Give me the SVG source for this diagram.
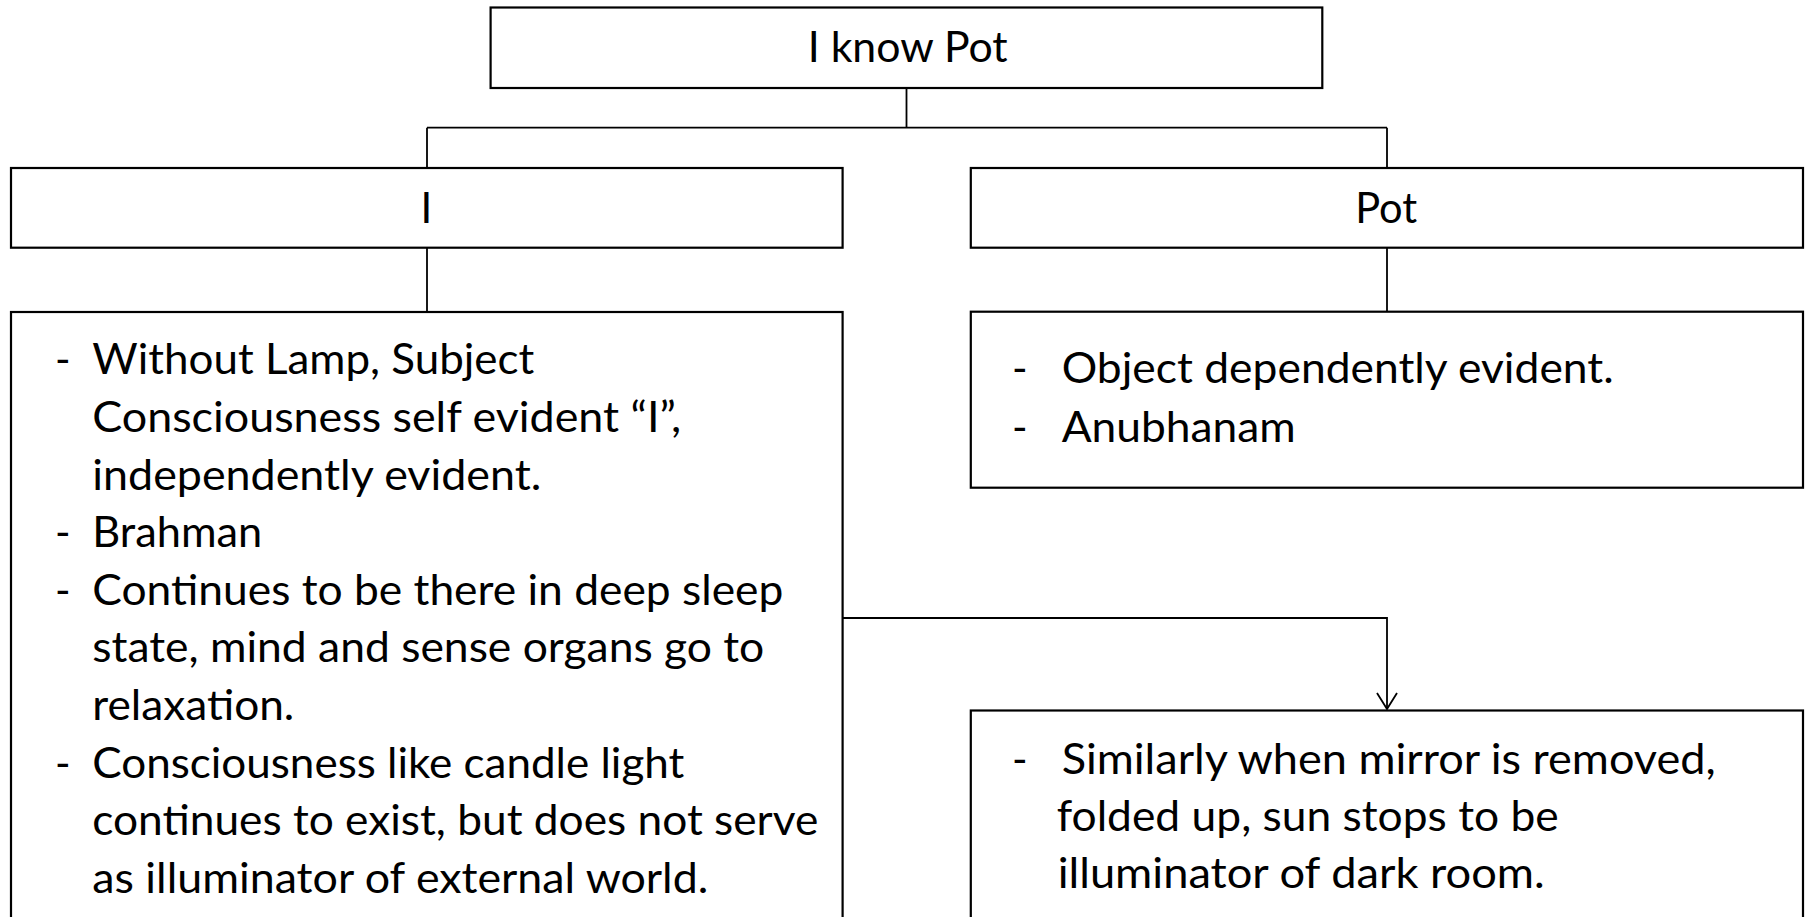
<svg xmlns="http://www.w3.org/2000/svg" width="1810" height="917" viewBox="0 0 1810 917">
  <style>
    .box { fill: #ffffff; stroke: #000000; stroke-width: 2.2; }
    .wire { fill: none; stroke: #000000; stroke-width: 1.8; }
    .t { font-family: Lato, "Open Sans", "Liberation Sans", sans-serif; font-size: 42px; fill: #000000; }
    .c { text-anchor: middle; }
  </style>
  <defs>
    <marker id="vee" markerWidth="24" markerHeight="20" refX="11" refY="17" orient="0" markerUnits="userSpaceOnUse">
      <path d="M1,1 L11,17 L21,1" fill="none" stroke="#000000" stroke-width="1.8"/>
    </marker>
  </defs>

  <rect width="1810" height="917" fill="#ffffff"/>

  <!-- connectors -->
  <g id="connectors">
    <path class="wire" d="M906.5,88 V127.7 M427,127.7 H1387 M427,127.7 V168 M1387,127.7 V168"/>
    <path class="wire" d="M427,247.7 V312"/>
    <path class="wire" d="M1387,247.7 V311.7"/>
    <path class="wire" d="M842.6,618 H1387 V709" marker-end="url(#vee)"/>
  </g>

  <!-- root -->
  <g id="root">
    <rect class="box" x="490.6" y="7.5" width="831.7" height="80.5"/>
    <text class="t c" x="907.7" y="62.3" textLength="200" lengthAdjust="spacingAndGlyphs">I know Pot</text>
  </g>

  <!-- subject -->
  <g id="subject">
    <rect class="box" x="11" y="168" width="831.6" height="79.7"/>
    <text class="t c" x="426.3" y="223.3">I</text>
  </g>

  <!-- object -->
  <g id="object">
    <rect class="box" x="970.8" y="168" width="832.2" height="79.7"/>
    <text class="t c" x="1386.2" y="222.7" textLength="62" lengthAdjust="spacingAndGlyphs">Pot</text>
  </g>

  <!-- subject notes -->
  <g id="subject-notes">
    <rect class="box" x="11" y="312" width="831.6" height="620"/>
    <text class="t" x="55" y="374.3">-</text>
    <text class="t" x="92.3" y="374.3" textLength="442" lengthAdjust="spacingAndGlyphs">Without Lamp, Subject</text>
    <text class="t" x="92.3" y="431.9" textLength="589" lengthAdjust="spacingAndGlyphs">Consciousness self evident “I”,</text>
    <text class="t" x="92.3" y="489.5" textLength="449" lengthAdjust="spacingAndGlyphs">independently evident.</text>
    <text class="t" x="55" y="547.1">-</text>
    <text class="t" x="92.3" y="547.1" textLength="170" lengthAdjust="spacingAndGlyphs">Brahman</text>
    <text class="t" x="55" y="604.7">-</text>
    <text class="t" x="92.3" y="604.7" textLength="691" lengthAdjust="spacingAndGlyphs">Continues to be there in deep sleep</text>
    <text class="t" x="92.3" y="662.3" textLength="672" lengthAdjust="spacingAndGlyphs">state, mind and sense organs go to</text>
    <text class="t" x="92.3" y="719.9" textLength="202" lengthAdjust="spacingAndGlyphs">relaxation.</text>
    <text class="t" x="55" y="777.5">-</text>
    <text class="t" x="92.3" y="777.5" textLength="592" lengthAdjust="spacingAndGlyphs">Consciousness like candle light</text>
    <text class="t" x="92.3" y="835.1" textLength="726" lengthAdjust="spacingAndGlyphs">continues to exist, but does not serve</text>
    <text class="t" x="92.3" y="892.7" textLength="616" lengthAdjust="spacingAndGlyphs">as illuminator of external world.</text>
  </g>

  <!-- object notes -->
  <g id="object-notes">
    <rect class="box" x="970.8" y="311.7" width="832.2" height="176"/>
    <text class="t" x="1012" y="383.3">-</text>
    <text class="t" x="1061.7" y="383.3" textLength="552" lengthAdjust="spacingAndGlyphs">Object dependently evident.</text>
    <text class="t" x="1012" y="441.7">-</text>
    <text class="t" x="1061.7" y="441.7" textLength="234" lengthAdjust="spacingAndGlyphs">Anubhanam</text>
  </g>

  <!-- mirror analogy -->
  <g id="mirror-note">
    <rect class="box" x="970.8" y="710.5" width="832.2" height="230"/>
    <text class="t" x="1012" y="774.3">-</text>
    <text class="t" x="1061.7" y="774.3" textLength="654" lengthAdjust="spacingAndGlyphs">Similarly when mirror is removed,</text>
    <text class="t" x="1056.7" y="831.3" textLength="502" lengthAdjust="spacingAndGlyphs">folded up, sun stops to be</text>
    <text class="t" x="1057.7" y="888.3" textLength="487" lengthAdjust="spacingAndGlyphs">illuminator of dark room.</text>
  </g>
</svg>
